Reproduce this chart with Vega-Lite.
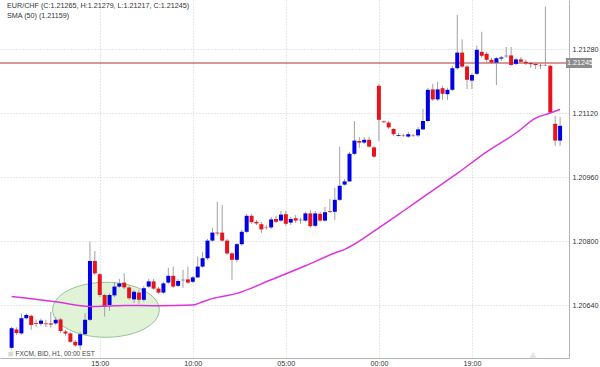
{
  "$schema": "https://vega.github.io/schema/vega-lite/v6.json",
  "width": 569,
  "height": 358,
  "autosize": {"type": "none"},
  "padding": {"left": 0, "top": 0, "right": 31, "bottom": 9},
  "background": "white",
  "config": {"font": "Liberation Sans", "view": {"stroke": null}},
  "datasets": {
    "candles": [
      {"i":0,"o":1.20533,"h":1.20585,"l":1.20529,"c":1.20582},
      {"i":1,"o":1.20579,"h":1.20584,"l":1.20565,"c":1.20570},
      {"i":2,"o":1.20569,"h":1.20619,"l":1.20566,"c":1.20607},
      {"i":3,"o":1.20607,"h":1.20619,"l":1.20604,"c":1.20615},
      {"i":4,"o":1.20613,"h":1.20616,"l":1.20578,"c":1.20590},
      {"i":5,"o":1.20595,"h":1.20604,"l":1.20585,"c":1.20593},
      {"i":6,"o":1.20593,"h":1.20606,"l":1.20588,"c":1.20601},
      {"i":7,"o":1.20594,"h":1.20603,"l":1.20585,"c":1.20592},
      {"i":8,"o":1.20594,"h":1.20623,"l":1.20583,"c":1.20591},
      {"i":9,"o":1.20594,"h":1.20610,"l":1.20590,"c":1.20603},
      {"i":10,"o":1.20604,"h":1.20608,"l":1.20570,"c":1.20575},
      {"i":11,"o":1.20574,"h":1.20578,"l":1.20563,"c":1.20569},
      {"i":12,"o":1.20569,"h":1.20573,"l":1.20545,"c":1.20548},
      {"i":13,"o":1.20548,"h":1.20553,"l":1.20535,"c":1.20539},
      {"i":14,"o":1.20539,"h":1.20573,"l":1.20528,"c":1.20567},
      {"i":15,"o":1.20567,"h":1.20619,"l":1.20565,"c":1.20603},
      {"i":16,"o":1.20603,"h":1.20798,"l":1.20600,"c":1.20750},
      {"i":17,"o":1.20750,"h":1.20775,"l":1.20716,"c":1.20719},
      {"i":18,"o":1.20717,"h":1.20720,"l":1.20660,"c":1.20665},
      {"i":19,"o":1.20665,"h":1.20668,"l":1.20611,"c":1.20636},
      {"i":20,"o":1.20640,"h":1.20670,"l":1.20625,"c":1.20665},
      {"i":21,"o":1.20664,"h":1.20698,"l":1.20660,"c":1.20686},
      {"i":22,"o":1.20686,"h":1.20705,"l":1.20683,"c":1.20694},
      {"i":23,"o":1.20696,"h":1.20719,"l":1.20680,"c":1.20684},
      {"i":24,"o":1.20684,"h":1.20688,"l":1.20653,"c":1.20657},
      {"i":25,"o":1.20654,"h":1.20678,"l":1.20645,"c":1.20673},
      {"i":26,"o":1.20671,"h":1.20678,"l":1.20643,"c":1.20653},
      {"i":27,"o":1.20653,"h":1.20688,"l":1.20648,"c":1.20682},
      {"i":28,"o":1.20686,"h":1.20705,"l":1.20683,"c":1.20699},
      {"i":29,"o":1.20699,"h":1.20705,"l":1.20678,"c":1.20681},
      {"i":30,"o":1.20681,"h":1.20685,"l":1.20668,"c":1.20671},
      {"i":31,"o":1.20671,"h":1.20698,"l":1.20668,"c":1.20694},
      {"i":32,"o":1.20696,"h":1.20733,"l":1.20693,"c":1.20713},
      {"i":33,"o":1.20713,"h":1.20736,"l":1.20683,"c":1.20686},
      {"i":34,"o":1.20688,"h":1.20705,"l":1.20685,"c":1.20700},
      {"i":35,"o":1.20702,"h":1.20728,"l":1.20683,"c":1.20703},
      {"i":36,"o":1.20704,"h":1.20736,"l":1.20693,"c":1.20696},
      {"i":37,"o":1.20698,"h":1.20713,"l":1.20695,"c":1.20709},
      {"i":38,"o":1.20709,"h":1.20761,"l":1.20708,"c":1.20736},
      {"i":39,"o":1.20736,"h":1.20773,"l":1.20733,"c":1.20757},
      {"i":40,"o":1.20757,"h":1.20805,"l":1.20753,"c":1.20801},
      {"i":41,"o":1.20801,"h":1.20833,"l":1.20798,"c":1.20821},
      {"i":42,"o":1.20821,"h":1.20898,"l":1.20813,"c":1.20819},
      {"i":43,"o":1.20821,"h":1.20890,"l":1.20798,"c":1.20801},
      {"i":44,"o":1.20801,"h":1.20805,"l":1.20765,"c":1.20769},
      {"i":45,"o":1.20769,"h":1.20773,"l":1.20703,"c":1.20753},
      {"i":46,"o":1.20753,"h":1.20795,"l":1.20748,"c":1.20792},
      {"i":47,"o":1.20792,"h":1.20828,"l":1.20788,"c":1.20823},
      {"i":48,"o":1.20823,"h":1.20868,"l":1.20820,"c":1.20863},
      {"i":49,"o":1.20863,"h":1.20868,"l":1.20843,"c":1.20847},
      {"i":50,"o":1.20848,"h":1.20853,"l":1.20840,"c":1.20844},
      {"i":51,"o":1.20842,"h":1.20848,"l":1.20820,"c":1.20829},
      {"i":52,"o":1.20835,"h":1.20840,"l":1.20828,"c":1.20834},
      {"i":53,"o":1.20834,"h":1.20860,"l":1.20830,"c":1.20854},
      {"i":54,"o":1.20855,"h":1.20863,"l":1.20845,"c":1.20848},
      {"i":55,"o":1.20851,"h":1.20875,"l":1.20848,"c":1.20866},
      {"i":56,"o":1.20867,"h":1.20875,"l":1.20838,"c":1.20843},
      {"i":57,"o":1.20846,"h":1.20860,"l":1.20840,"c":1.20855},
      {"i":58,"o":1.20857,"h":1.20865,"l":1.20845,"c":1.20851},
      {"i":59,"o":1.20852,"h":1.20858,"l":1.20843,"c":1.20853},
      {"i":60,"o":1.20851,"h":1.20873,"l":1.20848,"c":1.20869},
      {"i":61,"o":1.20869,"h":1.20878,"l":1.20833,"c":1.20837},
      {"i":62,"o":1.20838,"h":1.20875,"l":1.20835,"c":1.20869},
      {"i":63,"o":1.20868,"h":1.20873,"l":1.20848,"c":1.20851},
      {"i":64,"o":1.20851,"h":1.20885,"l":1.20848,"c":1.20872},
      {"i":65,"o":1.20875,"h":1.20905,"l":1.20870,"c":1.20873},
      {"i":66,"o":1.20873,"h":1.20933,"l":1.20853,"c":1.20903},
      {"i":67,"o":1.20903,"h":1.21036,"l":1.20900,"c":1.20938},
      {"i":68,"o":1.20941,"h":1.20955,"l":1.20938,"c":1.20949},
      {"i":69,"o":1.20949,"h":1.21023,"l":1.20948,"c":1.21018},
      {"i":70,"o":1.21018,"h":1.21100,"l":1.21015,"c":1.21051},
      {"i":71,"o":1.21050,"h":1.21060,"l":1.21033,"c":1.21046},
      {"i":72,"o":1.21046,"h":1.21060,"l":1.21043,"c":1.21053},
      {"i":73,"o":1.21053,"h":1.21060,"l":1.21033,"c":1.21036},
      {"i":74,"o":1.21034,"h":1.21038,"l":1.21008,"c":1.21011},
      {"i":75,"o":1.21188,"h":1.21193,"l":1.21050,"c":1.21103},
      {"i":76,"o":1.21099,"h":1.21101,"l":1.21095,"c":1.21097},
      {"i":77,"o":1.21096,"h":1.21100,"l":1.21080,"c":1.21084},
      {"i":78,"o":1.21080,"h":1.21083,"l":1.21063,"c":1.21067},
      {"i":79,"o":1.21063,"h":1.21070,"l":1.21061,"c":1.21065},
      {"i":80,"o":1.21064,"h":1.21068,"l":1.21060,"c":1.21063},
      {"i":81,"o":1.21061,"h":1.21073,"l":1.21058,"c":1.21067},
      {"i":82,"o":1.21064,"h":1.21068,"l":1.21060,"c":1.21063},
      {"i":83,"o":1.21064,"h":1.21085,"l":1.21060,"c":1.21079},
      {"i":84,"o":1.21079,"h":1.21130,"l":1.21078,"c":1.21100},
      {"i":85,"o":1.21100,"h":1.21183,"l":1.21098,"c":1.21178},
      {"i":86,"o":1.21179,"h":1.21193,"l":1.21150,"c":1.21154},
      {"i":87,"o":1.21154,"h":1.21198,"l":1.21150,"c":1.21179},
      {"i":88,"o":1.21182,"h":1.21188,"l":1.21153,"c":1.21168},
      {"i":89,"o":1.21167,"h":1.21183,"l":1.21153,"c":1.21178},
      {"i":90,"o":1.21178,"h":1.21238,"l":1.21175,"c":1.21232},
      {"i":91,"o":1.21232,"h":1.21365,"l":1.21228,"c":1.21271},
      {"i":92,"o":1.21271,"h":1.21304,"l":1.21233,"c":1.21236},
      {"i":93,"o":1.21236,"h":1.21240,"l":1.21180,"c":1.21203},
      {"i":94,"o":1.21201,"h":1.21220,"l":1.21180,"c":1.21215},
      {"i":95,"o":1.21218,"h":1.21288,"l":1.21215,"c":1.21278},
      {"i":96,"o":1.21273,"h":1.21323,"l":1.21258,"c":1.21263},
      {"i":97,"o":1.21268,"h":1.21273,"l":1.21245,"c":1.21253},
      {"i":98,"o":1.21253,"h":1.21258,"l":1.21243,"c":1.21246},
      {"i":99,"o":1.21246,"h":1.21260,"l":1.21190,"c":1.21257},
      {"i":100,"o":1.21256,"h":1.21263,"l":1.21250,"c":1.21259},
      {"i":101,"o":1.21262,"h":1.21285,"l":1.21258,"c":1.21263},
      {"i":102,"o":1.21264,"h":1.21285,"l":1.21238,"c":1.21240},
      {"i":103,"o":1.21243,"h":1.21258,"l":1.21240,"c":1.21254},
      {"i":104,"o":1.21254,"h":1.21260,"l":1.21245,"c":1.21248},
      {"i":105,"o":1.21248,"h":1.21253,"l":1.21240,"c":1.21244},
      {"i":106,"o":1.21245,"h":1.21248,"l":1.21233,"c":1.21242},
      {"i":107,"o":1.21243,"h":1.21245,"l":1.21230,"c":1.21240},
      {"i":108,"o":1.21240,"h":1.21245,"l":1.21230,"c":1.21239},
      {"i":109,"o":1.21240,"h":1.21386,"l":1.21238,"c":1.21239},
      {"i":110,"o":1.21238,"h":1.21240,"l":1.21120,"c":1.21121},
      {"i":111,"o":1.21093,"h":1.21113,"l":1.21038,"c":1.21051},
      {"i":112,"o":1.21051,"h":1.21110,"l":1.21038,"c":1.21088}
    ],
    "sma": [
      {"i":0,"v":1.20661},{"i":9,"v":1.20648},{"i":16,"v":1.20636},{"i":23,"v":1.20639},
      {"i":30,"v":1.20638},{"i":37,"v":1.20640},{"i":39,"v":1.20648},{"i":41,"v":1.20656},
      {"i":46,"v":1.20669},{"i":53,"v":1.20703},{"i":60,"v":1.20738},{"i":66,"v":1.20770},
      {"i":68,"v":1.20779},{"i":75,"v":1.20833},{"i":80,"v":1.20875},{"i":85,"v":1.20918},
      {"i":91,"v":1.20969},{"i":97,"v":1.21023},{"i":103,"v":1.21070},{"i":107,"v":1.21107},
      {"i":110,"v":1.21120},{"i":112,"v":1.21129}
    ]
  },
  "layer": [
    {
      "data": {"values": [{}]},
      "mark": {
        "type": "point",
        "shape": "M -1 0 A 1 0.515 0 1 1 1 0 A 1 0.515 0 1 1 -1 0 Z",
        "size": 11385, "filled": true,
        "fill": "#e0f3d7", "fillOpacity": 1, "stroke": "#98c296", "strokeWidth": 1, "opacity": 1
      },
      "encoding": {
        "x": {"datum": 19.26, "scale": {"domain": [-1.35, 112.8], "nice": false, "zero": false}},
        "y": {"datum": 1.20628, "scale": {"domain": [1.205075, 1.214025], "nice": false, "zero": false}}
      }
    },
    {
      "data": {"values": [{}]},
      "mark": {"type": "rule", "color": "#a83232", "strokeWidth": 1},
      "encoding": {"y": {"datum": 1.21245}}
    },
    {
      "data": {"name": "candles"},
      "mark": {"type": "rule", "color": "#a0a0a0", "strokeWidth": 1},
      "encoding": {
        "x": {
          "field": "i", "type": "quantitative", "title": null,
          "scale": {"domain": [-1.35, 112.8], "nice": false, "zero": false},
          "axis": {
            "values": [18, 37, 56, 75, 94],
            "labelExpr": "pad(toString((datum.value+21)%24),2,'0','left')+':00'",
            "grid": true, "gridColor": "#cfcfcf", "gridDash": [1, 2],
            "ticks": false, "domain": true, "domainColor": "#b4b4b4",
            "labelFontSize": 7.2, "labelColor": "#333333", "labelPadding": 1,
            "labelFont": "Liberation Sans", "title": null
          }
        },
        "y": {
          "field": "l", "type": "quantitative", "title": null,
          "scale": {"domain": [1.205075, 1.214025], "nice": false, "zero": false},
          "axis": {
            "orient": "right",
            "values": [1.2064, 1.208, 1.2096, 1.2112, 1.2128],
            "format": ".5f",
            "grid": true, "gridColor": "#cfcfcf", "gridDash": [1, 2],
            "ticks": false, "domain": true, "domainColor": "#b4b4b4",
            "labelFontSize": 7.2, "labelColor": "#333333", "labelPadding": 3,
            "labelFont": "Liberation Sans", "title": null
          }
        },
        "y2": {"field": "h"}
      }
    },
    {
      "data": {"name": "candles"},
      "mark": {"type": "bar", "size": 4},
      "encoding": {
        "x": {"field": "i", "type": "quantitative", "title": null},
        "y": {"field": "o", "type": "quantitative", "title": null},
        "y2": {"field": "c"},
        "color": {"condition": {"test": "datum.c > datum.o", "value": "#0000e6"}, "value": "#e6141c"}
      }
    },
    {
      "data": {"name": "sma"},
      "mark": {"type": "line", "color": "#dd33dd", "strokeWidth": 1.5, "interpolate": "monotone"},
      "encoding": {
        "x": {"field": "i", "type": "quantitative", "title": null},
        "y": {"field": "v", "type": "quantitative", "title": null}
      }
    },
    {
      "data": {"values": [{}]},
      "mark": {"type": "rect", "color": "#8c8c8c"},
      "encoding": {
        "x": {"datum": 113.2}, "x2": {"datum": 118.5},
        "y": {"datum": 1.212575}, "y2": {"datum": 1.212325}
      }
    },
    {
      "data": {"values": [{}]},
      "mark": {"type": "text", "text": "1.21245", "color": "white", "fontSize": 7.2, "align": "left", "baseline": "middle", "dx": 1, "font": "Liberation Sans"},
      "encoding": {"x": {"datum": 113.2}, "y": {"datum": 1.21245}}
    },
    {
      "data": {"values": [{}]},
      "mark": {"type": "text", "text": "EUR/CHF (C:1.21265, H:1.21279, L:1.21217, C:1.21245)", "color": "#333333", "fontSize": 7.2, "align": "left", "baseline": "middle", "font": "Liberation Sans"},
      "encoding": {"x": {"datum": -0.95}, "y": {"datum": 1.213875}}
    },
    {
      "data": {"values": [{}]},
      "mark": {"type": "text", "text": "SMA (50) (1.21159)", "color": "#333333", "fontSize": 7.2, "align": "left", "baseline": "middle", "font": "Liberation Sans"},
      "encoding": {"x": {"datum": -0.95}, "y": {"datum": 1.213625}}
    },
    {
      "data": {"values": [{}]},
      "mark": {"type": "point", "shape": "square", "size": 22, "filled": true, "color": "#c8c8c8"},
      "encoding": {"x": {"datum": -0.2}, "y": {"datum": 1.205175}}
    },
    {
      "data": {"values": [{}]},
      "mark": {"type": "text", "text": "FXCM, BID, H1, 00:00 EST", "color": "#444444", "fontSize": 6.5, "align": "left", "baseline": "middle", "font": "Liberation Sans"},
      "encoding": {"x": {"datum": 0.8}, "y": {"datum": 1.205175}}
    },
    {
      "data": {"values": [{}]},
      "mark": {"type": "point", "shape": "triangle-up", "size": 60, "filled": true, "color": "#dcdcdc"},
      "encoding": {"x": {"datum": 106.5}, "y": {"datum": 1.20515}}
    }
  ]
}
